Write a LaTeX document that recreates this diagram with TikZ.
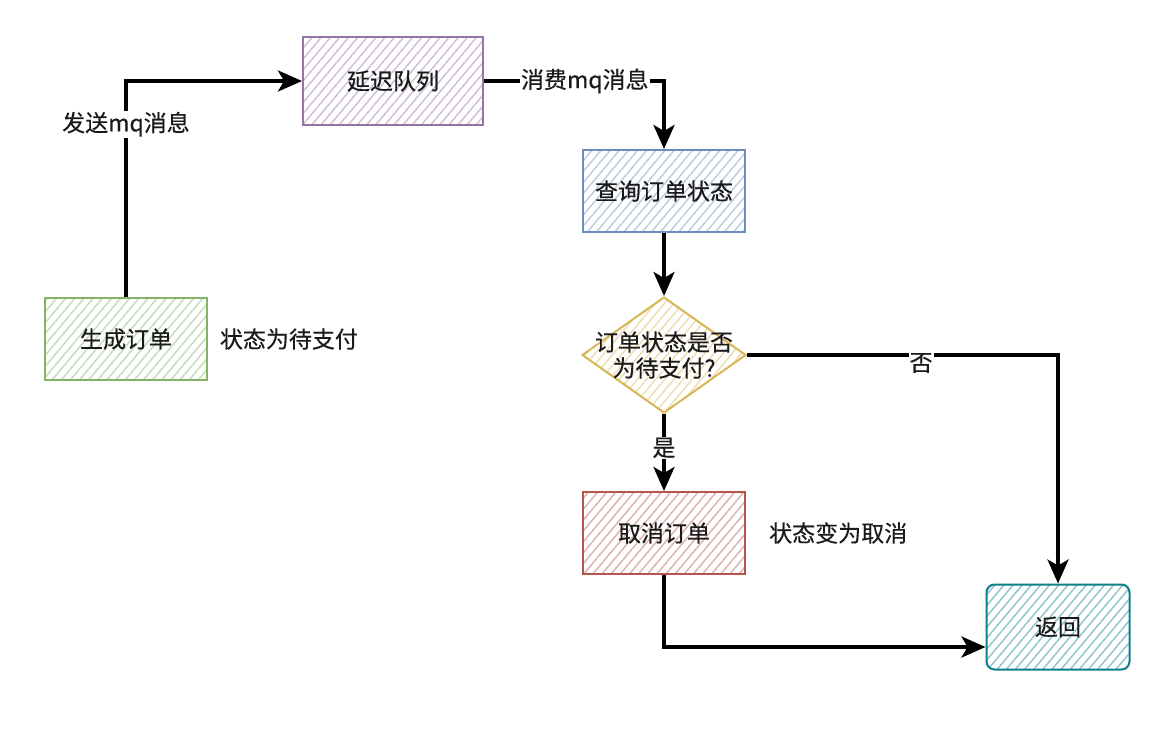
\documentclass[tikz,border=0pt]{standalone}
\usepackage{fontspec}
\setmainfont{Noto Sans CJK SC}[FakeBold=0.4]
\usetikzlibrary{arrows.meta,positioning,shapes.geometric,patterns.meta}
\definecolor{ink}{HTML}{000000}
\definecolor{txt}{HTML}{1A1A1A}
\definecolor{grn}{HTML}{82B366}
\definecolor{prp}{HTML}{9673A6}
\definecolor{blu}{HTML}{6C8EBF}
\definecolor{ylw}{HTML}{D6B656}
\definecolor{rdd}{HTML}{B85450}
\definecolor{tea}{HTML}{0E8088}
\tikzset{
  hatch/.style={pattern={Lines[angle=50,distance=7pt,line width=1.5pt]},
                pattern color=#1!45},
  box/.style={rectangle, draw=#1, line width=2pt, hatch=#1, align=center,
              inner sep=0pt, minimum width=162pt, minimum height=82pt,
              font=\fontsize{23}{26}\selectfont, text=txt},
  check/.style={diamond, draw=ylw, line width=2pt, hatch=ylw, align=center,
                inner sep=-25pt, minimum width=164pt, minimum height=116pt,
                font=\fontsize{23}{26}\selectfont, text=txt},
  note/.style={font=\fontsize{23}{26}\selectfont, text=txt, inner sep=0pt},
  fl/.style={-{Stealth[length=24pt,width=21pt,inset=6pt]}, draw=ink, line width=3.5pt},
  lbl/.style={font=\fontsize{23}{26}\selectfont, text=txt, fill=white, inner sep=1pt}
}

\begin{document}
\begin{tikzpicture}[x=1pt, y=-1pt]
  \useasboundingbox (0,0) rectangle (1162,736);
  \node[box=grn] (gen) at (126,339) {生成订单};
  \node[note, right=12pt of gen] (genst) {状态为待支付};
  \node[box=prp, minimum width=180pt, minimum height=88pt] (queue) at (393,81) {延迟队列};
  \node[box=blu] (query) at (664,191) {查询订单状态};
  \node[check, below=63pt of query] (chk) {订单状态是否\\为待支付?};
  \node[box=rdd, below=77pt of chk] (cancel) {取消订单};
  \node[note, right=23pt of cancel] (cancelst) {状态变为取消};
  \node[box=tea, rounded corners=8pt, minimum width=143pt, minimum height=85pt] (ret) at (1058,627) {返回};
  \draw[fl] (gen.north) |- node[lbl, pos=0.4] {发送mq消息} (queue.west);
  \draw[fl] (queue.east) -| node[lbl, pos=0.28] {消费mq消息} (query.north);
  \draw[fl] (query) -- (chk);
  \draw[fl] (chk.east) -| node[lbl, pos=0.28, yshift=-8pt] {否} (ret.north);
  \draw[fl] (chk.south) -- node[lbl, pos=0.44] {是} (cancel.north);
  \draw[fl] (cancel.south) |- ([yshift=-20pt]ret.west);
\end{tikzpicture}
\end{document}
